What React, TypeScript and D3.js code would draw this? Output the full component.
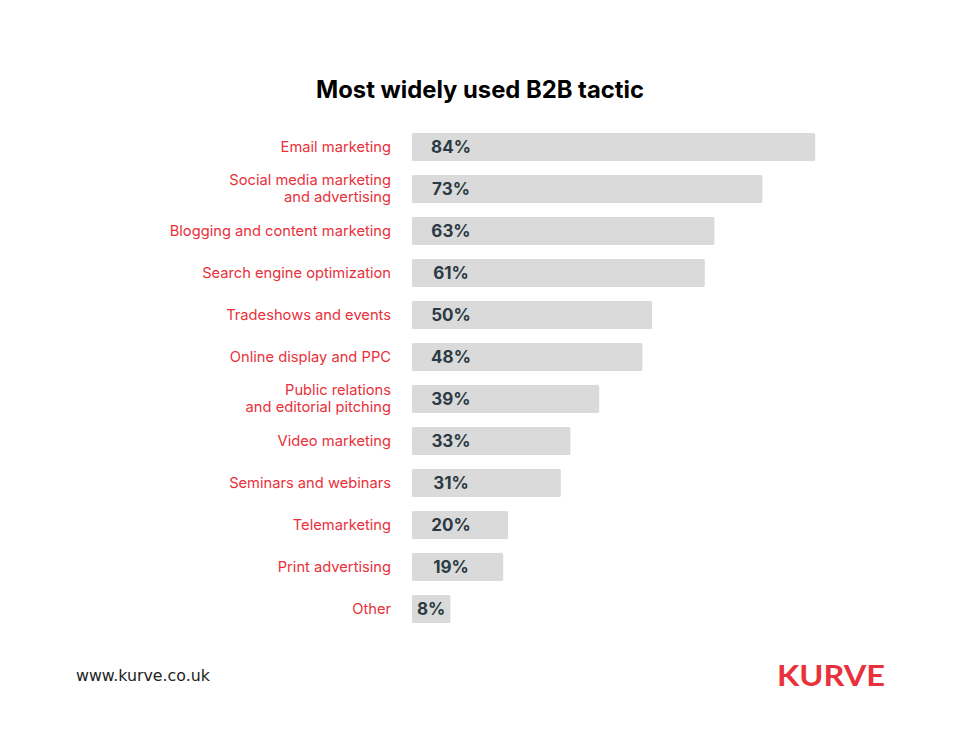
import React, { useEffect, useRef } from 'react';
import * as d3 from 'd3';

// tactic names (each entry is the lines of the label)
const tactics: string[][] = [
  ['Email marketing'],
  ['Social media marketing', 'and advertising'],
  ['Blogging and content marketing'],
  ['Search engine optimization'],
  ['Tradeshows and events'],
  ['Online display and PPC'],
  ['Public relations', 'and editorial pitching'],
  ['Video marketing'],
  ['Seminars and webinars'],
  ['Telemarketing'],
  ['Print advertising'],
  ['Other'],
];
const shares: number[] = [84, 73, 63, 61, 50, 48, 39, 33, 31, 20, 19, 8];

const title = 'Most widely used B2B tactic';
const site = 'www.kurve.co.uk';
const brand = 'KURVE';

export default function App() {
  const ref = useRef<SVGSVGElement>(null);

  function draw() {
    const svg = d3.select(ref.current);
    svg.selectAll('*').remove();

    const width = 960;
    const barLeft = 412;
    const red = '#e8313b';

    svg.append('rect').attr('width', width).attr('height', 750).attr('fill', '#fff');

    // title
    svg.append('text')
      .attr('x', 480)
      .attr('y', 98)
      .attr('text-anchor', 'middle')
      .attr('font-family', 'Inter, "Libre Franklin", sans-serif')
      .attr('font-weight', 700)
      .attr('font-size', 23.8)
      .attr('fill', '#000')
      .text(title);

    const rows = tactics.map((t, i) => ({ key: t.join(' '), lines: t, value: shares[i] }));

    const x = d3.scaleLinear().domain([0, 100]).range([0, 480]);
    const y = d3.scaleBand<string>()
      .domain(rows.map(d => d.key))
      .range([126, 126 + rows.length * 42])
      .paddingInner(1 / 3)
      .paddingOuter(1 / 6);

    const g = svg.append('g');
    const row = g.selectAll('g.row')
      .data(rows)
      .enter()
      .append('g')
      .attr('class', 'row')
      .attr('transform', d => 'translate(0,' + y(d.key) + ')');

    // bars
    row.append('rect')
      .attr('x', barLeft)
      .attr('y', 0)
      .attr('width', d => x(d.value))
      .attr('height', y.bandwidth())
      .attr('rx', 1.5)
      .attr('fill', '#dadada');

    // values
    row.append('text')
      .attr('x', d => barLeft + Math.min(39, x(d.value) / 2))
      .attr('y', y.bandwidth() / 2 + 5.5)
      .attr('text-anchor', 'middle')
      .attr('font-family', 'Inter, "Libre Franklin", sans-serif')
      .attr('font-weight', 700)
      .attr('font-size', 17)
      .attr('fill', '#2b3a44')
      .text(d => d.value + '%');

    // category labels
    const lh = 17;
    row.append('text')
      .attr('text-anchor', 'end')
      .attr('font-family', 'Inter, "Libre Franklin", sans-serif')
      .attr('font-size', 14.7)
      .attr('fill', red)
      .each(function (d) {
        const t = d3.select(this);
        const top = y.bandwidth() / 2 + 4.5 - ((d.lines.length - 1) * lh) / 2;
        d.lines.forEach((l, i) => {
          t.append('tspan').attr('x', 391).attr('y', top + i * lh).text(l);
        });
      });

    // footer
    svg.append('text')
      .attr('x', 76)
      .attr('y', 681)
      .attr('font-family', '"DejaVu Sans", Verdana, sans-serif')
      .attr('font-size', 15.8)
      .attr('fill', '#222')
      .text(site);

    svg.append('text')
      .attr('x', 777)
      .attr('y', 686)
      .attr('font-family', 'Lato, sans-serif')
      .attr('font-weight', 700)
      .attr('font-size', 29)
      .attr('textLength', 108)
      .attr('lengthAdjust', 'spacingAndGlyphs')
      .attr('fill', red)
      .text(brand);
  }

  useEffect(() => {
    draw();
  }, []);

  return (
    <div style={{ margin: -8 }}>
      <svg ref={ref} width={960} height={750} style={{ display: 'block' }} />
    </div>
  );
}
